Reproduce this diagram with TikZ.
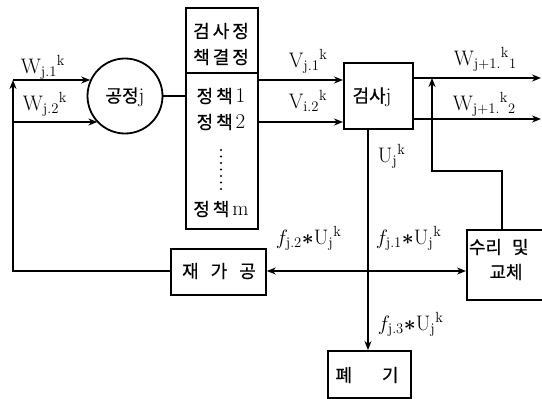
\documentclass[tikz,border=0pt]{standalone}
\usepackage{fontspec}
\usepackage{amsmath}
\newfontfamily\kr{Noto Sans CJK KR}[FakeBold=0.5]
\newcommand\latn[1]{{\normalfont\fontsize{21}{23}\selectfont #1}}
\usetikzlibrary{arrows.meta}
\begin{document}
\begin{tikzpicture}[x=1pt,y=-1pt,line width=1.8pt,
  arr/.style={-{Stealth[length=9pt,width=7pt]}},
  box/.style={draw,rectangle,inner sep=0pt,anchor=north west},
  kt/.style={font=\fontsize{18}{20}\selectfont\kr,inner sep=0pt},
  lt/.style={font=\fontsize{21}{23}\selectfont,inner sep=0pt,anchor=base west}]
\useasboundingbox (0,0) rectangle (542,399);
% nodes
\node[draw,circle,minimum size=75pt,inner sep=0pt] (proc) at (125,96) {};
\node[kt] (proct) at (125,97) {공정\latn{j}};
\node[box,minimum width=72pt,minimum height=65pt] (ptop) at (185,7) {};
\node[box,minimum width=72pt,minimum height=156pt] (pbot) at (185,72) {};
\node[kt] (t1) at (221,31) {검\,사\,정};
\node[kt] (t2) at (221,57) {책\,결\,정};
\node[kt] (t3) at (221,96) {정\,책\,\latn{1}};
\node[kt] (t4) at (221,122) {정\,책\,\latn{2}};
\node[kt] (t5) at (221,209) {정\,책\,\latn{m}};
\node[box,minimum width=69pt,minimum height=66pt] (insp) at (343,62) {};
\node[kt] (it) at (372,97) {검사\latn{j}};
\node[box,minimum width=95pt,minimum height=46pt] (rework) at (170,248) {};
\node[kt] (rt) at (219,271) {재\hspace{12pt}가\hspace{12pt}공};
\node[box,minimum width=82pt,minimum height=70pt] (repair) at (466,229) {};
\node[kt,anchor=west] (rp1) at (468,247) {수리\hspace{10pt}및};
\node[kt] (rp2) at (506,272) {교체};
\node[box,minimum width=83pt,minimum height=47pt] (scrap) at (327,350) {};
\node[kt] (st) at (367,375) {폐\hspace{30pt}기};
% dots
\foreach \yy in {150,156.5,...,190} \fill (221,\yy) circle (1.2pt);
% coordinates
\coordinate (L1) at (13,80);
\coordinate (L2) at (13,122);
\coordinate (O1) at (541,78);
\coordinate (O2) at (541,119);
\coordinate (R1) at (432,171);
\coordinate (J) at (368,271);
% connectors
\draw[arr] (rework.west |- J) -| (L1);
\draw[arr] (L1) -- (L1 -| proc.155);
\draw[arr] (L2) -- (L2 -| proc.224);
\draw (proc.east) -- (proc.east -| pbot.west);
\draw[arr] (pbot.east |- L1) -- (insp.west |- L1);
\draw[arr] (pbot.east |- L2) -- (insp.west |- L2);
\draw[arr] (insp.east |- O1) -- (O1);
\draw[arr] (insp.east |- O2) -- (O2);
\draw[arr] (repair.north -| 502,0) |- (R1) -- (R1 |- O1);
\draw (insp.south -| J) -- (J);
\draw[arr] (J) -- (rework.east |- J);
\draw[arr] (J) -- (repair.west |- J);
\draw[arr] (J) -- (J |- scrap.north);
% labels
\node[lt] (lw1) at (20,73) {$\mathrm{W}_{\mathrm{j.1}}{}^{\mathrm{k}}$};
\node[lt] (lw2) at (22,110) {$\mathrm{W}_{\mathrm{j.2}}{}^{\mathrm{k}}$};
\node[lt] (lv1) at (288,67) {$\mathrm{V}_{\mathrm{j.1}}{}^{\mathrm{k}}$};
\node[lt] (lv2) at (288,108) {$\mathrm{V}_{\mathrm{i.2}}{}^{\mathrm{k}}$};
\node[lt] (lo1) at (453,65) {$\mathrm{W}_{\mathrm{j+1.}}{}^{\mathrm{k}}{}_{1}$};
\node[lt] (lo2) at (452,110) {$\mathrm{W}_{\mathrm{j+1.}}{}^{\mathrm{k}}{}_{2}$};
\node[lt] (lu) at (377,162) {$\mathrm{U}_{\mathrm{j}}{}^{\mathrm{k}}$};
\node[lt] (lf2) at (275,244) {$f_{\mathrm{j.2}}\mathord{\boldsymbol{\ast}}\mathrm{U}_{\mathrm{j}}{}^{\mathrm{k}}$};
\node[lt] (lf1) at (375,244) {$f_{\mathrm{j.1}}\mathord{\boldsymbol{\ast}}\mathrm{U}_{\mathrm{j}}{}^{\mathrm{k}}$};
\node[lt] (lf3) at (377,330) {$f_{\mathrm{j.3}}\mathord{\boldsymbol{\ast}}\mathrm{U}_{\mathrm{j}}{}^{\mathrm{k}}$};
\end{tikzpicture}
\end{document}
